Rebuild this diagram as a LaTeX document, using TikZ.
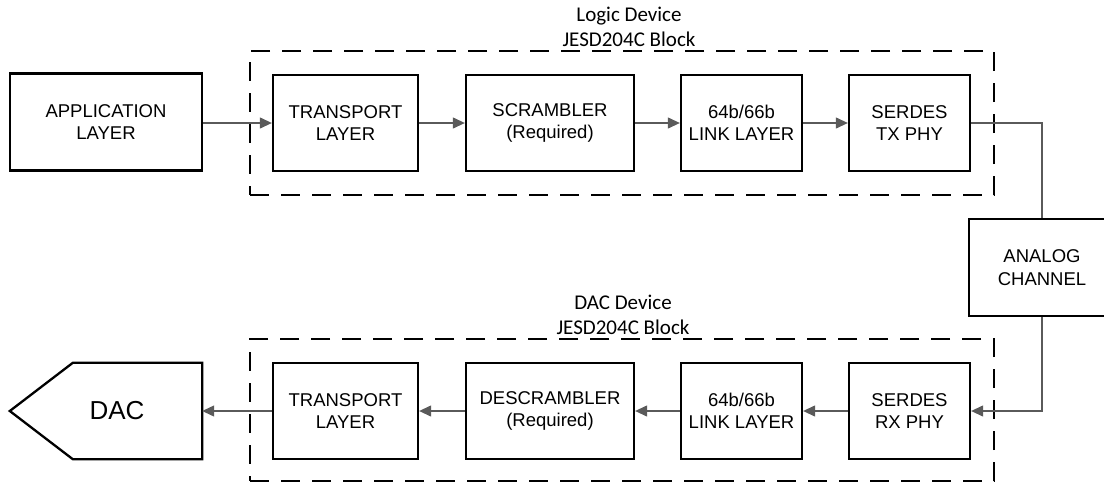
\documentclass[tikz,border=0pt]{standalone}
\usepackage{fontspec}
\setmainfont{Liberation Sans}
\newfontfamily\labelfont{Carlito}
\usetikzlibrary{arrows.meta,calc}
\definecolor{conn}{RGB}{90,90,90}
\begin{document}
\begin{tikzpicture}[x=1pt,y=-1pt,
  blk/.style={draw=black, line width=2.3pt, inner sep=0pt, align=center,
    font=\fontsize{18.5}{22.5}\selectfont, minimum height=96pt},
  grp/.style={draw=black, line width=2.6pt, dash pattern=on 19pt off 12pt,
    inner sep=0pt, minimum width=744pt, minimum height=144pt},
  grplbl/.style={font=\labelfont\fontsize{21}{25}\selectfont, align=center,
    anchor=south, inner sep=0pt},
  arr/.style={draw=conn, line width=1.2pt, -{Triangle[length=12pt,width=11pt]}},
  wire/.style={draw=conn, line width=1.2pt}]
\useasboundingbox (0,0) rectangle (1104,483);
\begin{scope}
\clip (0,0) rectangle (1104,483);
% group boxes
\node[grp] (g1) at (622,123) {};
\node[grp, minimum height=142pt] (g2) at (622,410) {};
\node[grplbl] (l1) at ($(g1.north)+(7,-3)$) {Logic Device\\JESD204C Block};
\node[grplbl] (l2) at ($(g2.north)+(1,-3)$) {DAC Device\\JESD204C Block};
% top row
\node[blk, minimum width=192pt, minimum height=97pt] (app) at (106,122) {APPLICATION\\LAYER};
\node[blk, minimum width=145pt] (tt1) at (345.5,123) {TRANSPORT\\LAYER};
\node[blk, minimum width=168pt] (scr) at (550,123) {SCRAMBLER\\(Required)};
\node[blk, minimum width=121pt] (lk1) at (741.5,123) {64b/66b\\LINK LAYER};
\node[blk, minimum width=121pt] (tx) at (909.5,123) {SERDES\\TX PHY};
% analog channel
\node[blk, minimum width=146pt, minimum height=97pt] (ana) at (1042,267.5) {ANALOG\\CHANNEL};
% bottom row
\node[blk, minimum width=121pt] (rx) at (909.5,411) {SERDES\\RX PHY};
\node[blk, minimum width=121pt] (lk2) at (741.5,411) {64b/66b\\LINK LAYER};
\node[blk, minimum width=168pt] (dsc) at (550,411) {DESCRAMBLER\\(Required)};
\node[blk, minimum width=145pt] (tt2) at (345.5,411) {TRANSPORT\\LAYER};
% DAC shape
\node[inner sep=0pt, minimum width=192pt, minimum height=96pt] (dac) at (106,411) {};
\draw[line width=2.3pt, line join=miter] (dac.west) -- ($(dac.north west)+(63,0)$)
  -- (dac.north east) -- (dac.south east) -- ($(dac.south west)+(63,0)$) -- cycle;
\node[font=\fontsize{26}{30}\selectfont, inner sep=0pt] (dactxt) at (117,411) {DAC};
% connectors
\draw[arr] (app.east |- tt1.west) -- (tt1.west);
\draw[arr] (tt1.east) -- (scr.west);
\draw[arr] (scr.east) -- (lk1.west);
\draw[arr] (lk1.east) -- (tx.west);
\draw[wire] (tx.east) -| (ana.north);
\draw[arr] (ana.south) |- (rx.east);
\draw[arr] (rx.west) -- (lk2.east);
\draw[arr] (lk2.west) -- (dsc.east);
\draw[arr] (dsc.west) -- (tt2.east);
\draw[arr] (tt2.west) -- (dac.east);
\end{scope}
\end{tikzpicture}
\end{document}
